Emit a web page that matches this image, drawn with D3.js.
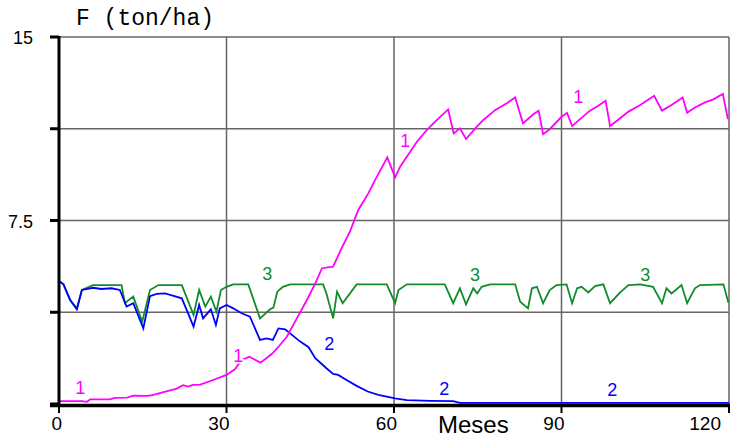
<!DOCTYPE html>
<html><head><meta charset="utf-8">
<script src="https://cdn.jsdelivr.net/npm/d3@7"></script>
<style>body{margin:0;background:#fff}svg{display:block}</style>
</head><body>
<svg id="c" width="736" height="438"></svg>
<script>
// ---- data ----
const s1Month = [0,4.1,5.0,5.6,9.1,10.0,12.2,13.3,15.8,16.7,21.1,22.2,23.1,24.0,25.3,27.6,30.0,31.5,32.7,34.1,36.1,38.1,39.1,40.8,42.6,44.4,45.9,47.1,49.1,50.6,52.1,53.6,55.4,56.6,58.8,60.2,61.1,62.9,64.1,65.9,67.7,69.7,70.7,71.8,72.9,74.8,76.0,78.1,80.2,81.7,83.1,85.0,85.9,86.7,87.9,90.0,91.0,91.9,93.0,95.1,96.3,97.9,98.7,100.5,102.0,104.1,106.6,108.0,109.7,111.7,112.5,113.9,115.7,117.2,118.9,119.8];
const s1Value = [0.12,0.12,0.09,0.19,0.19,0.25,0.26,0.34,0.33,0.36,0.63,0.77,0.71,0.78,0.79,0.98,1.19,1.42,1.80,1.93,1.69,2.04,2.28,2.75,3.50,4.25,4.93,5.55,5.61,6.36,7.04,7.93,8.61,9.15,10.08,9.26,9.70,10.31,10.72,11.20,11.61,12.04,11.06,11.27,10.83,11.33,11.61,12.01,12.29,12.53,11.47,11.85,11.99,11.03,11.23,11.74,11.90,11.36,11.58,11.99,12.15,12.39,11.36,11.68,11.95,12.22,12.60,11.99,12.22,12.53,11.90,12.12,12.33,12.45,12.67,11.65];

const s2Month = [0,0.8,2.0,3.2,4.1,6.1,7.6,9.4,10.9,12.1,13.3,15.1,16.3,17.5,19.0,22.0,24.1,25.1,25.8,27.2,28.1,28.8,30.0,31.2,32.7,34.2,36.0,37.2,38.3,39.3,40.5,43.2,44.7,45.9,47.9,49.1,50.0,51.5,53.3,55.3,57.2,60.2,62.3,66.5,70.6,71.8,120];
const s2Value = [5.03,4.89,4.25,3.87,4.66,4.75,4.70,4.73,4.66,3.98,4.12,3.09,4.41,4.50,4.52,4.32,3.16,4.05,3.50,3.87,3.23,3.91,4.05,3.91,3.71,3.57,2.62,2.68,2.62,3.09,3.05,2.55,2.32,1.87,1.46,1.23,1.19,0.98,0.74,0.51,0.37,0.23,0.16,0.13,0.12,0.05,0.05];

const s3Month = [0,0.8,2.0,3.2,4.1,6.1,11.2,11.8,13.3,14.9,16.3,17.8,22.0,24.1,25.1,26.2,27.2,28.2,29.0,30.0,31.2,33.9,36.0,37.8,38.4,39.1,40.1,41.4,47.3,47.9,49.1,49.8,50.8,53.3,58.7,60.2,60.8,62.3,69.1,70.6,71.8,72.9,74.2,74.9,75.7,77.2,81.7,82.6,84.0,84.7,85.6,86.7,87.9,89.1,90.9,91.9,92.8,93.6,94.8,96.0,97.5,98.7,100.5,102.0,104.1,106.4,108.0,108.8,109.7,111.5,112.5,113.9,114.8,119.0,119.9];
const s3Value = [5.03,4.89,4.25,3.91,4.66,4.86,4.86,4.12,4.39,3.36,4.66,4.86,4.86,3.64,4.66,3.98,4.39,3.77,4.66,4.79,4.89,4.89,3.50,3.87,3.94,4.59,4.79,4.89,4.89,4.52,3.50,4.59,4.12,4.89,4.89,4.12,4.66,4.89,4.89,4.12,4.73,4.07,4.73,4.52,4.79,4.89,4.89,4.18,3.91,4.73,4.79,4.12,4.66,4.86,4.89,4.12,4.73,4.79,4.56,4.82,4.89,4.12,4.56,4.86,4.89,4.79,4.12,4.73,4.52,4.86,4.12,4.73,4.86,4.89,4.14];

const xTicks = [0,30,60,90,120];
const yTicks = [0,3.75,7.5,11.25,15];
const yTickLabels = ["","","7.5","","15"];

const labelText  = ["1","1","1","1","2","2","2","3","3","3"];
const labelMonth = [3.8,32.1,62.0,93.0,48.4,69.0,99.1,37.3,74.5,105.0];
const labelValue = [0.41,1.72,10.50,12.30,2.21,0.37,0.33,5.07,5.03,5.03];
const labelSeries = [0,0,0,0,1,1,1,2,2,2];

const colors = ["#ff00ff","#0000ff","#108c2c"];

// ---- chart ----
const svg = d3.select("#c");
const x = d3.scaleLinear().domain([0,120]).range([59,729]);
const y = d3.scaleLinear().domain([0,15]).range([404,37]);

// grid
const g = svg.append("g");
g.selectAll(".hg").data(yTicks.filter(d=>d>0)).join("line")
  .attr("x1",x(0)).attr("x2",x(120)).attr("y1",d=>y(d)).attr("y2",d=>y(d))
  .attr("stroke","#666").attr("stroke-width",1.5);
g.selectAll(".vg").data(xTicks.filter(d=>d>0)).join("line")
  .attr("x1",d=>x(d)).attr("x2",d=>x(d)).attr("y1",y(15)).attr("y2",y(0))
  .attr("stroke","#666").attr("stroke-width",1.5);

// series lines
const line = d3.line().x(d=>x(d[0])).y(d=>y(d[1]));
const series = [
  d3.zip(s1Month,s1Value),
  d3.zip(s2Month,s2Value),
  d3.zip(s3Month,s3Value)
];
// draw order: green, blue, magenta
[2,1,0].forEach(i=>{
  svg.append("path").datum(series[i]).attr("d",line)
    .attr("fill","none").attr("stroke",colors[i]).attr("stroke-width",1.8)
    .attr("stroke-linejoin","miter");
});

// axes
svg.append("line").attr("x1",x(0)).attr("x2",x(0)).attr("y1",y(15)-1).attr("y2",y(0)+3)
  .attr("stroke","#000").attr("stroke-width",3);
svg.append("line").attr("x1",50).attr("x2",x(120)+1).attr("y1",y(0)+1.5).attr("y2",y(0)+1.5)
  .attr("stroke","#000").attr("stroke-width",3.5);
svg.selectAll(".yt").data(yTicks).join("line")
  .attr("x1",50).attr("x2",x(0)).attr("y1",d=>y(d)).attr("y2",d=>y(d))
  .attr("stroke","#000").attr("stroke-width",3);
svg.selectAll(".xt").data(xTicks).join("line")
  .attr("x1",d=>x(d)).attr("x2",d=>x(d)).attr("y1",y(0)).attr("y2",y(0)+9)
  .attr("stroke","#000").attr("stroke-width",2);

svg.selectAll(".yl").data(yTicks).join("text")
  .attr("x",33).attr("y",d=>y(d)+7).attr("text-anchor","end")
  .attr("font-family","Liberation Sans, Arial, sans-serif").attr("font-size",18)
  .text((d,i)=>yTickLabels[i]);
svg.selectAll(".xl").data(xTicks).join("text")
  .attr("x",d=>Math.min(x(d)+3,721)).attr("y",430).attr("text-anchor","end")
  .attr("font-family","Liberation Sans, Arial, sans-serif").attr("font-size",19)
  .text(d=>d);

svg.append("text").attr("x",438).attr("y",433)
  .attr("font-family","Liberation Sans, Arial, sans-serif").attr("font-size",24)
  .text("Meses");
svg.append("text").attr("x",76).attr("y",25)
  .attr("font-family","Liberation Mono, Courier New, monospace").attr("font-size",23)
  .attr("font-weight",300)
  .text("F (ton/ha)");

// series labels
svg.selectAll(".sl").data(labelText).join("text")
  .attr("x",(d,i)=>x(labelMonth[i])).attr("y",(d,i)=>y(labelValue[i]))
  .attr("text-anchor","middle")
  .attr("font-family","Liberation Sans, Arial, sans-serif").attr("font-size",18)
  .attr("fill",(d,i)=>colors[labelSeries[i]])
  .attr("stroke","#fff").attr("stroke-width",3).attr("paint-order","stroke")
  .text(d=>d);
</script>
</body></html>
